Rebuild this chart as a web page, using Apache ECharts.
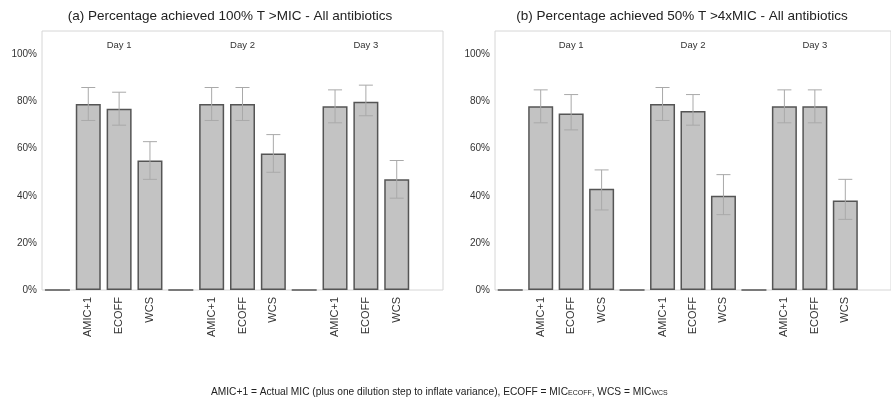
<!DOCTYPE html>
<html>
<head>
<meta charset="utf-8">
<script src="https://cdn.jsdelivr.net/npm/echarts@6/dist/echarts.min.js"></script>
<style>
  html, body { margin: 0; padding: 0; background: #fff; }
  #chart { width: 891px; height: 400px; }
</style>
</head>
<body>
<div id="chart"></div>
<script>
// categories: an empty slot leads each day, one trailing empty slot
const slots = ['', 'AMIC+1', 'ECOFF', 'WCS', '', 'AMIC+1', 'ECOFF', 'WCS', '', 'AMIC+1', 'ECOFF', 'WCS', ''];
const dayLabels = ['', '', 'Day 1', '', '', '', 'Day 2', '', '', '', 'Day 3', '', ''];

// (a) 100% T > MIC
const valuesA = [0, 79, 77, 55, 0, 79, 79, 58, 0, 78, 80, 47, null];
const lowA = [null, 72, 70, 47, null, 72, 72, 50, null, 71, 74, 39, null];
const highA = [null, 86, 84, 63, null, 86, 86, 66, null, 85, 87, 55, null];

// (b) 50% T > 4xMIC
const valuesB = [0, 78, 75, 43, 0, 79, 76, 40, 0, 78, 78, 38, null];
const lowB = [null, 71, 68, 34, null, 72, 70, 32, null, 71, 71, 30, null];
const highB = [null, 85, 83, 51, null, 86, 83, 49, null, 85, 85, 47, null];

const titleA = '(a) Percentage achieved 100% T >MIC - All antibiotics';
const titleB = '(b) Percentage achieved 50% T >4xMIC - All antibiotics';

const font = 'Liberation Sans, Arial, sans-serif';

function errData(lo, hi) {
    return lo.map((l, i) => l == null ? null : [i, l, hi[i]]).filter(d => d);
}

function renderErr(params, api) {
    const top = api.coord([api.value(0), api.value(2)]);
    const bot = api.coord([api.value(0), api.value(1)]);
    const w = 7;
    const style = { stroke: '#a9a9a9', lineWidth: 1 };
    return {
        type: 'group',
        children: [
            { type: 'line', shape: { x1: top[0], y1: top[1], x2: bot[0], y2: bot[1] }, style },
            { type: 'line', shape: { x1: top[0] - w, y1: top[1], x2: top[0] + w, y2: top[1] }, style },
            { type: 'line', shape: { x1: bot[0] - w, y1: bot[1], x2: bot[0] + w, y2: bot[1] }, style }
        ]
    };
}

function xBottom(gridIndex) {
    return {
        type: 'category', gridIndex, data: slots, position: 'bottom',
        axisLine: { show: false }, axisTick: { show: false },
        axisLabel: { rotate: 90, margin: 7, fontSize: 11, color: '#333', fontFamily: font, interval: 0 }
    };
}
function xTop(gridIndex) {
    return {
        type: 'category', gridIndex, data: dayLabels, position: 'top',
        axisLine: { show: false }, axisTick: { show: false },
        axisLabel: { inside: true, margin: 9, fontSize: 9.5, color: '#333', fontFamily: font, interval: 0 }
    };
}
function yAxis(gridIndex) {
    return {
        type: 'value', gridIndex, min: 0, max: 110, interval: 20,
        axisLine: { show: false }, axisTick: { show: false }, splitLine: { show: false },
        axisLabel: { showMaxLabel: false, formatter: '{value}%', fontSize: 10, color: '#333', fontFamily: font, margin: 5 }
    };
}
function barSeries(idx, data) {
    return {
        type: 'bar', xAxisIndex: idx * 2, yAxisIndex: idx, data, barWidth: 25,
        itemStyle: { color: '#c3c3c3', borderColor: '#555', borderWidth: 1.5 },
        silent: true
    };
}

const chart = echarts.init(document.getElementById('chart'));
chart.setOption({
    animation: false,
    backgroundColor: '#fff',
    textStyle: { fontFamily: font },
    grid: [
        { left: 42, top: 31, width: 401, height: 259, show: true, borderColor: '#d6d6d6', borderWidth: 1 },
        { left: 495, top: 31, width: 402, height: 259, show: true, borderColor: '#d6d6d6', borderWidth: 1 }
    ],
    xAxis: [xBottom(0), xTop(0), xBottom(1), xTop(1)],
    yAxis: [yAxis(0), yAxis(1)],
    series: [
        barSeries(0, valuesA),
        barSeries(1, valuesB),
        { type: 'custom', xAxisIndex: 0, yAxisIndex: 0, data: errData(lowA, highA), renderItem: renderErr, z: 5 },
        { type: 'custom', xAxisIndex: 2, yAxisIndex: 1, data: errData(lowB, highB), renderItem: renderErr, z: 5 }
    ],
    graphic: [
        { type: 'text', x: 230, y: 16, style: { text: titleA, font: '13.5px ' + font, fill: '#222', textAlign: 'center', textVerticalAlign: 'middle' } },
        { type: 'text', x: 682, y: 16, style: { text: titleB, font: '13.5px ' + font, fill: '#222', textAlign: 'center', textVerticalAlign: 'middle' } },
        {
            type: 'text', x: 211, y: 392,
            style: {
                text: '{n|AMIC+1 = Actual MIC (plus one dilution step to inflate variance), ECOFF = MIC}{s|ECOFF}{n|, WCS = MIC}{s|WCS}',
                textVerticalAlign: 'middle',
                rich: {
                    n: { fontSize: 10.2, fontFamily: font, fill: '#222', verticalAlign: 'bottom', height: 12 },
                    s: { fontSize: 7, fontFamily: font, fill: '#222', verticalAlign: 'bottom', height: 10 }
                }
            }
        }
    ]
});
</script>
</body>
</html>
